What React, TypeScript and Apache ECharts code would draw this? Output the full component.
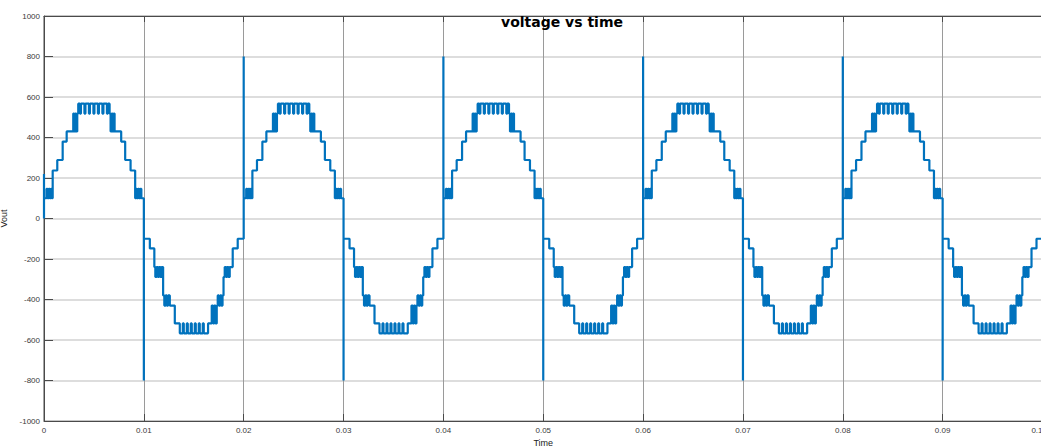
import React, { useEffect, useRef } from "react";
import * as echarts from "echarts";

// Tick labels
const xTickLabels = ["0", "0.01", "0.02", "0.03", "0.04", "0.05", "0.06", "0.07", "0.08", "0.09", "0.1"];
const yTicks = [-1000, -800, -600, -400, -200, 0, 200, 400, 600, 800, 1000];

// Period starts (s)
const periodStarts = [0, 0.02, 0.04, 0.06, 0.08];

// Switching spikes at zero crossings [time s, peak value]
const spikes: [number, number][] = [
  [0, 220], [0.01, -800], [0.02, 800], [0.03, -800], [0.04, 800],
  [0.05, -800], [0.06, 800], [0.07, -800], [0.08, 800], [0.09, -800],
];

// Positive half-cycle staircase: [ms from period start, Vout]
const posHalf: [number, number][] = [
  [0.0, 100],
  [0.25, 147], [0.35, 100], [0.48, 147], [0.58, 100], [0.7, 147], [0.78, 100],
  [0.87, 237],
  [1.33, 289],
  [1.87, 380],
  [2.27, 430],
  [2.93, 518], [3.03, 430], [3.13, 518], [3.23, 430], [3.33, 518],
  [3.43, 567], [3.6, 518], [3.7, 567], [4.05, 518], [4.15, 567], [4.5, 518], [4.6, 567],
  [4.95, 518], [5.05, 567], [5.4, 518], [5.5, 567], [5.85, 518], [5.95, 567], [6.3, 518], [6.4, 567],
  [6.57, 518], [6.67, 430], [6.77, 518], [6.87, 430], [6.97, 518], [7.07, 430],
  [7.73, 380],
  [8.13, 289],
  [8.67, 237],
  [9.13, 100], [9.22, 147], [9.3, 100], [9.42, 147], [9.52, 100], [9.65, 147], [9.75, 100],
];

// Negative half-cycle staircase: [ms from half-cycle start, Vout]
const negHalf: [number, number][] = [
  [0.0, -100],
  [0.6, -148],
  [1.05, -240], [1.15, -289], [1.28, -240], [1.4, -289], [1.53, -240], [1.65, -289], [1.78, -240],
  [1.93, -380], [2.05, -430], [2.18, -380], [2.3, -430], [2.43, -380],
  [2.6, -430],
  [3.1, -518],
  [3.6, -567], [3.9, -518], [4.0, -567], [4.3, -518], [4.4, -567], [4.7, -518], [4.8, -567],
  [5.1, -518], [5.2, -567], [5.5, -518], [5.6, -567], [5.9, -518], [6.0, -567],
  [6.43, -518],
  [6.8, -430], [6.93, -518], [7.05, -430], [7.18, -518], [7.3, -430],
  [7.4, -380], [7.52, -430], [7.65, -380], [7.77, -430], [7.88, -380],
  [7.98, -289], [8.1, -240], [8.22, -289], [8.35, -240], [8.47, -289],
  [8.6, -240],
  [8.9, -148],
  [9.4, -100],
];

const endPoint: [number, number] = [0.1, 0];

function buildSeries(): [number, number][] {
  const pts: [number, number][] = [[0, 0]];
  let prev = 0;
  const stepTo = (t: number, v: number) => {
    pts.push([t, prev]);
    pts.push([t, v]);
    prev = v;
  };
  let si = 0;
  periodStarts.forEach((p) => {
    const sp1 = spikes[si++];
    stepTo(sp1[0], sp1[1]);
    posHalf.forEach(([ms, v]) => stepTo(p + ms / 1000, v));
    const sp2 = spikes[si++];
    stepTo(sp2[0], sp2[1]);
    negHalf.forEach(([ms, v]) => stepTo(p + 0.01 + ms / 1000, v));
  });
  stepTo(endPoint[0], endPoint[1]);
  return pts;
}

export default function App() {
  const ref = useRef<HTMLDivElement>(null);
  useEffect(() => {
    document.body.style.margin = "0";
    const chart = echarts.init(ref.current!, undefined, { renderer: "svg" });
    const labelFont = { fontFamily: "Liberation Sans", fontSize: 8, color: "#3a3a3a" };
    chart.setOption({
      animation: false,
      backgroundColor: "#ffffff",
      grid: {
        left: 44, top: 16, width: 998.5, height: 405,
        containLabel: false, outerBoundsMode: "none",
        show: true, borderColor: "#4a4a4a", borderWidth: 1, backgroundColor: "transparent",
      },
      graphic: [
        {
          type: "text",
          x: 562,
          y: 22,
          style: {
            text: "voltage vs time",
            fontFamily: "DejaVu Sans",
            fontWeight: "bold",
            fontSize: 14,
            fill: "#000",
            align: "center",
            verticalAlign: "middle",
          },
          z: 100,
        },
      ],
      xAxis: [
        {
          type: "value",
          min: 0,
          max: 0.1,
          interval: 0.01,
          name: "Time",
          nameLocation: "middle",
          nameGap: 14,
          nameTextStyle: { fontFamily: "Liberation Sans", fontSize: 9, color: "#222" },
          axisLine: { show: true, onZero: false, lineStyle: { color: "#4a4a4a", width: 1 } },
          axisTick: { show: true, inside: true, length: 7, lineStyle: { color: "#4a4a4a" } },
          axisLabel: {
            ...labelFont,
            margin: 5,
            showMaxLabel: true,
            alignMaxLabel: "right",
            formatter: (v: number) => xTickLabels[Math.round(v / 0.01)] ?? "",
          },
          splitLine: { show: true, lineStyle: { color: "#9a9a9a", width: 1 } },
        },
        {
          type: "value",
          position: "top",
          min: 0,
          max: 0.1,
          interval: 0.01,
          axisLine: { show: true, onZero: false, lineStyle: { color: "#4a4a4a", width: 1 } },
          axisTick: { show: true, inside: true, length: 6, lineStyle: { color: "#4a4a4a" } },
          axisLabel: { show: false },
          splitLine: { show: false },
        },
      ],
      yAxis: {
        type: "value",
        min: yTicks[0],
        max: yTicks[yTicks.length - 1],
        interval: 200,
        name: "Vout",
        nameLocation: "middle",
        nameGap: 29,
        nameRotate: 90,
        nameTextStyle: { fontFamily: "Liberation Sans", fontSize: 9, color: "#222" },
        axisLine: { show: true, onZero: false, lineStyle: { color: "#4a4a4a", width: 1 } },
        axisTick: { show: true, inside: true, length: 9, lineStyle: { color: "#4a4a4a" } },
        axisLabel: { ...labelFont, margin: 4, formatter: (v: number) => String(v) },
        splitLine: { show: true, lineStyle: { color: "#d2d2d2", width: 1.5 } },
      },
      series: [
        {
          type: "line",
          xAxisIndex: 0,
          data: buildSeries(),
          showSymbol: false,
          symbol: "none",
          lineStyle: { color: "#0072BD", width: 2.2 },
          z: 5,
        },
      ],
    });
    return () => chart.dispose();
  }, []);
  return <div ref={ref} style={{ position: "fixed", left: 0, top: 0, width: 1041, height: 448 }} />;
}
